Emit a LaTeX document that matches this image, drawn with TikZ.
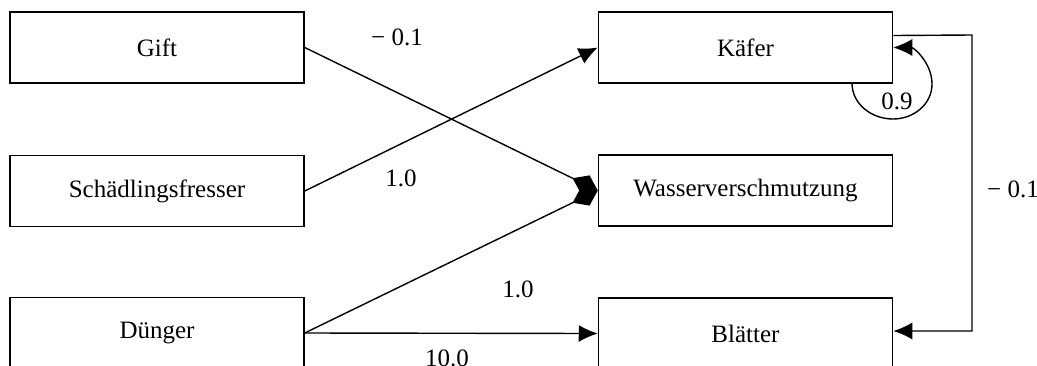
\documentclass[tikz,border=0pt]{standalone}
\usepackage{fontspec}
\setmainfont{Liberation Serif}
\usetikzlibrary{arrows.meta}
\begin{document}
\begin{tikzpicture}[x=1pt,y=-1pt,
  box/.style={draw,line width=1.5pt,minimum width=294pt,minimum height=71pt,inner sep=0pt,font=\fontsize{25}{30}\selectfont},
  lbl/.style={inner sep=0pt,font=\fontsize{25}{30}\selectfont},
  edge/.style={line width=1.4pt},
  tip/.style={-{Latex[length=19pt,width=17pt]}},
  dia/.style={-{Diamond[length=28pt,width=20pt]}}]
\useasboundingbox (0,0) rectangle (1037,365);
\fill[white] (0,0) rectangle (1037,365);
\node[box] (gift) at (157,47.5) {Gift};
\node[box] (sch) at (157,191) {Schädlingsfresser};
\node[box] (dung) at (157,333) {Dünger};
\node[box] (kaf) at (745.5,47.5) {Käfer};
\node[box] (was) at (745.5,190.5) {Wasserverschmutzung};
\node[box] (bla) at (745.5,333.5) {Blätter};
\draw[edge,dia] (gift.east) -- (was.west);
\draw[edge,dia] (dung.east) -- (was.west);
\draw[edge,tip] (sch.east) -- (kaf.west);
\draw[edge,tip] (dung.east) -- (bla.west);
\coordinate (ko) at ([yshift=12pt]kaf.east);
\coordinate (kr) at (972,35);
\coordinate (br) at (972,331);
\coordinate (bi) at ([yshift=2.5pt]bla.east);
\draw[edge,tip] (ko) -- (kr) -- (br) -- (bi);
\coordinate (ls) at (852,83);
\coordinate (lb) at (893,119);
\coordinate (lr) at (932,84);
\coordinate (le) at (kaf.east);
\draw[edge,tip] (ls) to[out=-90,in=180] (lb) to[out=0,in=-90] (lr) to[out=90,in=0] (le);
\node[lbl] (l1) at (397,37) {− 0.1};
\node[lbl] (l2) at (401,178) {1.0};
\node[lbl] (l3) at (518,289) {1.0};
\node[lbl] (l4) at (447,358) {10.0};
\node[lbl] (l5) at (1013,189) {− 0.1};
\node[lbl] (l6) at (897,101) {0.9};
\end{tikzpicture}
\end{document}
